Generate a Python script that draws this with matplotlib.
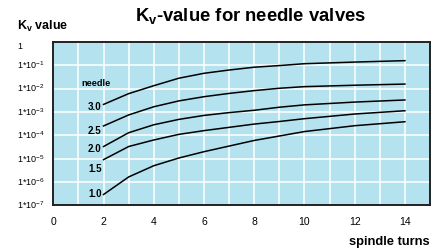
import matplotlib
matplotlib.use("Agg")
import matplotlib.pyplot as plt
import matplotlib.transforms as mtransforms
import numpy as np

plt.rcParams['font.family'] = ['Liberation Sans', 'DejaVu Sans']
plt.rcParams['mathtext.fontset'] = 'custom'
plt.rcParams['mathtext.rm'] = 'Liberation Sans'
plt.rcParams['mathtext.bf'] = 'Liberation Sans:bold'

# spindle turns and log10(Kv), one list per needle size
turns = [2, 3, 4, 5, 6, 7, 8, 9, 10, 12, 14]
kv_exp = {
    "3.0": [-2.68, -2.22, -1.88, -1.56, -1.35, -1.21, -1.09, -1.02, -0.94, -0.87, -0.81],
    "2.5": [-3.60, -3.13, -2.78, -2.53, -2.35, -2.21, -2.09, -1.99, -1.92, -1.86, -1.81],
    "2.0": [-4.48, -3.89, -3.55, -3.32, -3.15, -3.03, -2.93, -2.80, -2.70, -2.58, -2.49],
    "1.5": [-5.04, -4.48, -4.20, -3.96, -3.80, -3.66, -3.52, -3.41, -3.29, -3.09, -2.95],
    "1.0": [-6.53, -5.78, -5.30, -4.97, -4.70, -4.46, -4.22, -4.03, -3.84, -3.59, -3.42],
}
ytick_labels = ["1", "1*10$^{-1}$", "1*10$^{-2}$", "1*10$^{-3}$", "1*10$^{-4}$",
                "1*10$^{-5}$", "1*10$^{-6}$", "1*10$^{-7}$"]
xticks = [0, 2, 4, 6, 8, 10, 12, 14]

# how far (pixels) each needle label sits below the start of its curve
label_drop = {"3.0": -3, "2.5": -5, "2.0": -2, "1.5": -9, "1.0": 1}

fig = plt.figure(figsize=(4.45, 2.49), dpi=100)
ax = fig.add_axes([0.1198, 0.1747, 0.8465, 0.6578])
ax.set_facecolor('#b4e3ef')
ax.set_yscale('log')
ax.set_xlim(0, 15)
ax.set_ylim(1e-7, 1)

# white grid, one line per turn and per decade
for xv in range(1, 15):
    ax.axvline(xv, color='white', lw=1.1, zorder=1)
for e in range(-6, 0):
    ax.axhline(10.0 ** e, color='white', lw=1.1, zorder=1)

for name, ex in kv_exp.items():
    yv = 10.0 ** np.array(ex)
    ax.plot(turns, yv, color='black', lw=1.1, zorder=3)
    ax.annotate(name, (turns[0], yv[0]), xytext=(-2, label_drop[name]),
                textcoords='offset pixels', ha='right', va='center',
                fontsize=7, fontweight='bold', zorder=4)
ax.text(1.12, 10.0 ** -1.78, "needle", fontsize=6.6, fontweight='bold',
        ha='left', va='center')

for s in ax.spines.values():
    s.set_linewidth(1.4)
    s.set_color('#222222')

ax.tick_params(length=0)
ax.set_xticks(xticks)
ax.set_xticklabels([str(t) for t in xticks], fontsize=7.5)
ax.tick_params(axis='x', pad=8)
ax.set_yticks([])
ax.minorticks_off()

# y labels are left-aligned at the figure's left side
trans = mtransforms.blended_transform_factory(fig.transFigure, ax.transData)
for i, lab in enumerate(ytick_labels):
    ax.text(0.038, 10.0 ** (-i), lab, transform=trans, fontsize=6.5,
            ha='left', va='top' if i == 0 else 'center', clip_on=False)

fig.text(0.038, 0.895, r"K$_\mathbf{v}$ value", fontsize=9, fontweight='bold',
         ha='left', va='center')
fig.text(0.564, 0.935, r"K$_\mathbf{v}$-value for needle valves", fontsize=13.3,
         fontweight='bold', ha='center', va='center')
fig.text(0.966, 0.028, "spindle turns", fontsize=9.3, fontweight='bold',
         ha='right', va='center')

fig.savefig("out.png", dpi=100)
